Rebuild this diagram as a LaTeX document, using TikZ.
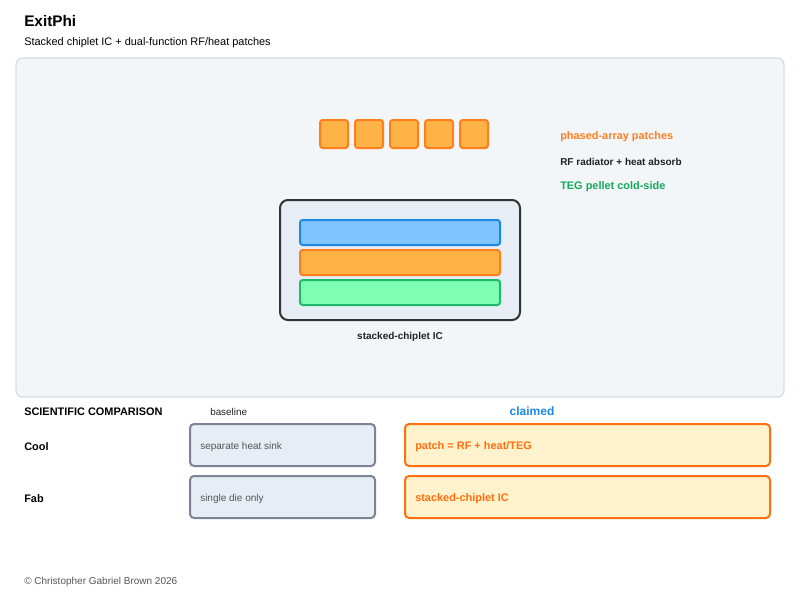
\documentclass[tikz,border=0pt]{standalone}
\usepackage{fontspec}
\setmainfont{Liberation Sans}
\usepackage{xcolor}
\usepackage{tikz}
\usetikzlibrary{positioning}
\definecolor{panelfill}{HTML}{F3F6F9}
\definecolor{panelline}{HTML}{D6DDE5}
\definecolor{icfill}{HTML}{E6EDF5}
\definecolor{icline}{HTML}{333333}
\definecolor{patchfill}{HTML}{FFB347}
\definecolor{patchline}{HTML}{FF7F1E}
\definecolor{bluefill}{HTML}{80C4FF}
\definecolor{blueline}{HTML}{1E88E5}
\definecolor{greenfill}{HTML}{7FFFB4}
\definecolor{greenline}{HTML}{20B86A}
\definecolor{tegtext}{HTML}{16A85A}
\definecolor{basefill}{HTML}{E6EDF5}
\definecolor{baseline}{HTML}{7A8494}
\definecolor{claimfill}{HTML}{FFF2CC}
\definecolor{claimline}{HTML}{FF7010}
\definecolor{darktext}{HTML}{222222}
\definecolor{graytext}{HTML}{555555}

\begin{document}
\begin{tikzpicture}[x=0.75pt, y=-0.75pt,
    txt/.style={anchor=west, inner sep=0pt, font=\fontsize{8.2}{9.8}\selectfont\bfseries},
    small/.style={anchor=west, inner sep=0pt, font=\fontsize{7.5}{9}\selectfont, graytext},
    patch/.style={draw=patchline, fill=patchfill, line width=1.5pt, rounded corners=2pt},
    layer/.style={line width=1.5pt, rounded corners=2pt},
    basebox/.style={draw=baseline, fill=basefill, line width=1.5pt, rounded corners=3pt},
    claimbox/.style={draw=claimline, fill=claimfill, line width=1.5pt, rounded corners=3pt}
]
\useasboundingbox (0,0) rectangle (800,600);

% header
\node[txt, font=\fontsize{11.5}{13}\selectfont\bfseries] (title) at (24,21) {ExitPhi};
\node[txt, font=\fontsize{8.2}{9.8}\selectfont] (subtitle) at (24,43) {Stacked chiplet IC + dual-function RF/heat patches};

% main panel
\draw[draw=panelline, fill=panelfill, line width=1pt, rounded corners=5pt] (16,58) rectangle (784,397);

% patches
\foreach \i in {0,...,4}
    \draw[patch] (320+35*\i,120) rectangle ++(28,28);

\node[txt, patchline] (lphase) at (560,137) {phased-array patches};
\node[txt, darktext, font=\fontsize{7.5}{9}\selectfont\bfseries] (lrf) at (560,162) {RF radiator + heat absorb};
\node[txt, tegtext] (lteg) at (560,187) {TEG pellet cold-side};

% stacked chiplet
\draw[draw=icline, fill=icfill, line width=1.5pt, rounded corners=6pt] (280,200) rectangle (520,320);
\draw[layer, draw=blueline, fill=bluefill] (300,220) rectangle (500,245);
\draw[layer, draw=patchline, fill=patchfill] (300,250) rectangle (500,275);
\draw[layer, draw=greenline, fill=greenfill] (300,280) rectangle (500,305);
\node[inner sep=0pt, font=\fontsize{7.5}{9}\selectfont\bfseries, darktext] (iclabel) at (400,337) {stacked-chiplet IC};

% comparison
\node[txt] (comp) at (24,412) {SCIENTIFIC COMPARISON};
\node[small, darktext, font=\fontsize{7.4}{9}\selectfont] (lbase) at (210,412) {baseline};
\node[inner sep=0pt, font=\fontsize{9}{11}\selectfont\bfseries, blueline] (lclaim) at (532,411) {claimed};

\node[txt] (cool) at (24,447) {Cool};
\node[txt] (fab) at (24,499) {Fab};

\draw[basebox] (190,424) rectangle (375,466);
\draw[basebox] (190,476) rectangle (375,518);
\node[small] (bcool) at (200,447) {separate heat sink};
\node[small] (bfab) at (200,499) {single die only};

\draw[claimbox] (405,424) rectangle (770,466);
\draw[claimbox] (405,476) rectangle (770,518);
\node[txt, claimline] (ccool) at (415,447) {patch = RF + heat/TEG};
\node[txt, claimline] (cfab) at (415,499) {stacked-chiplet IC};

% footer
\node[small] (footer) at (24,582) {© Christopher Gabriel Brown 2026};
\end{tikzpicture}
\end{document}
